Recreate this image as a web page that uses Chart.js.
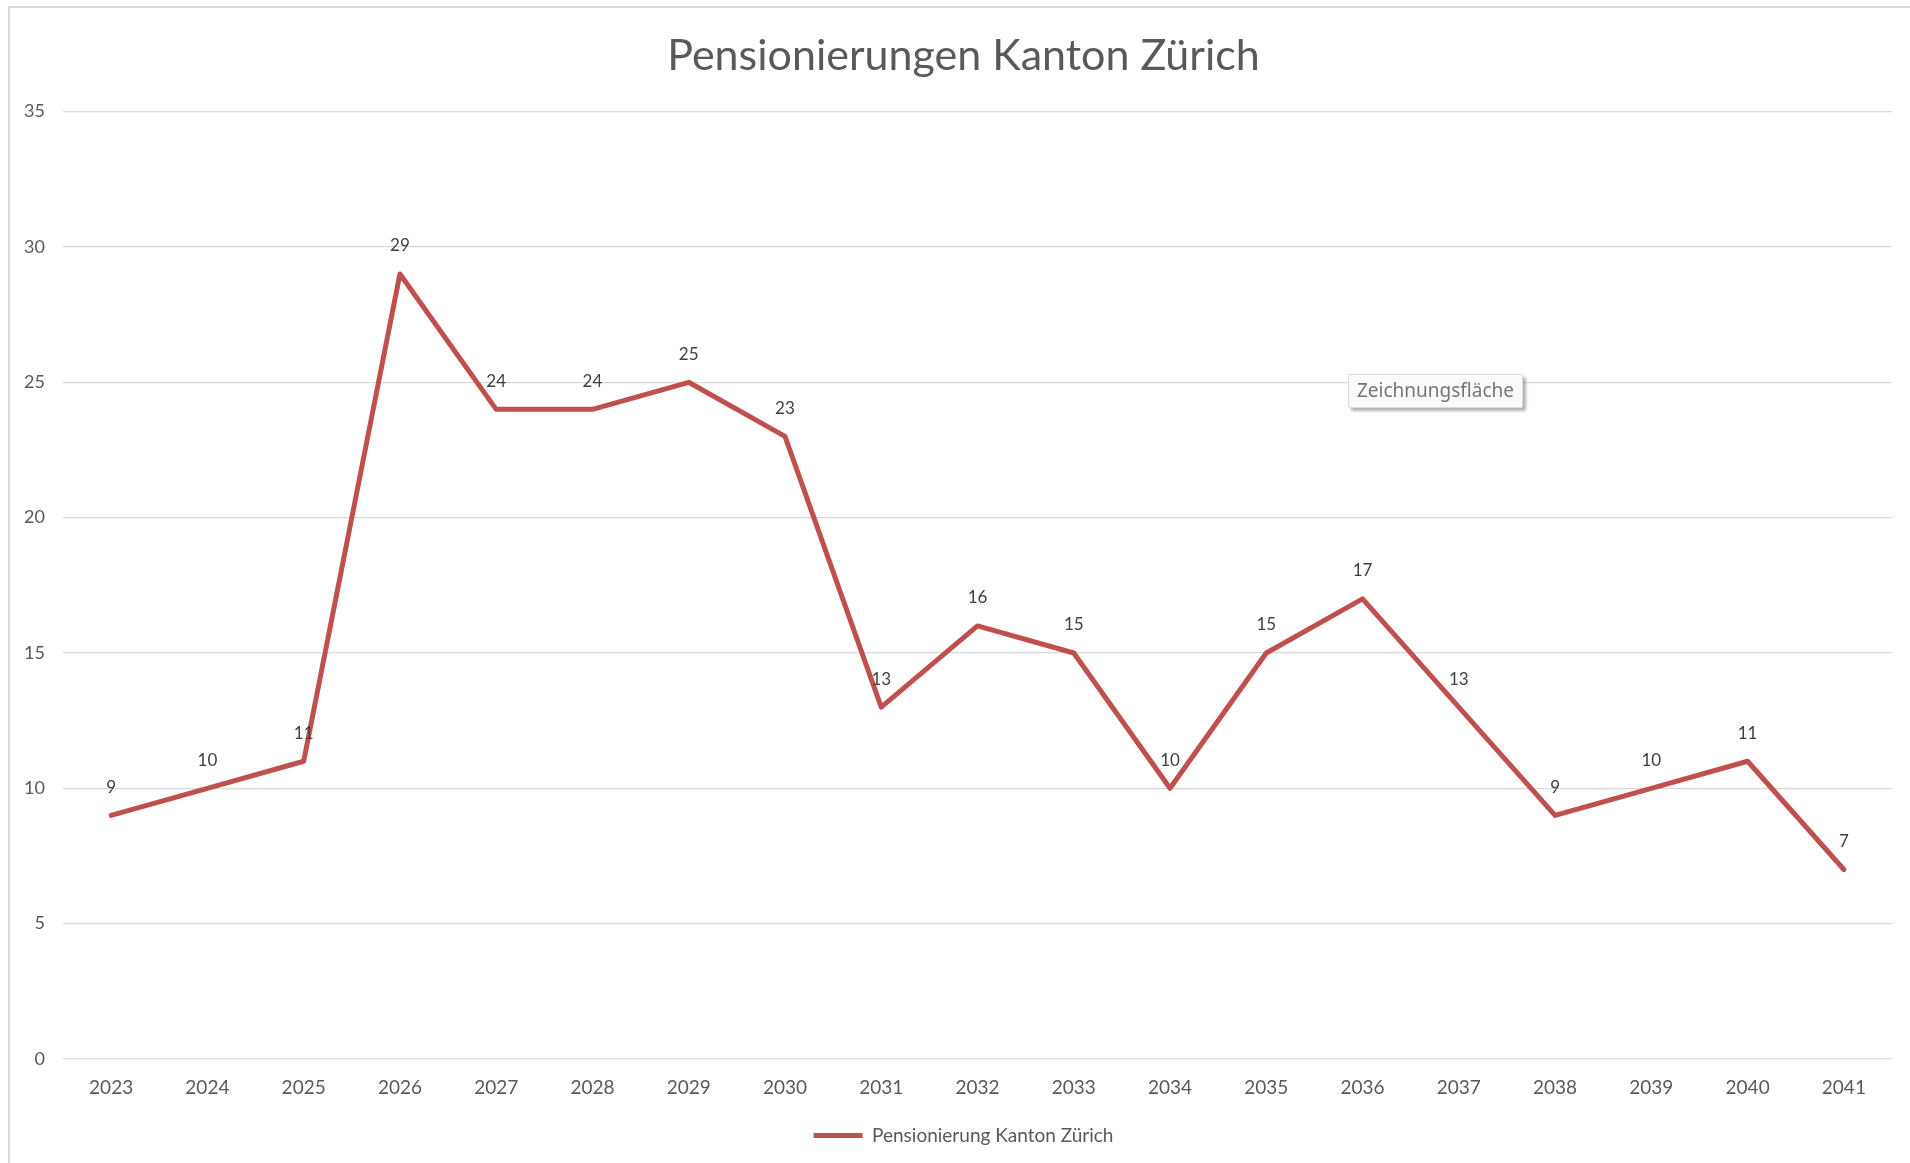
<!DOCTYPE html>
<html>
<head>
<meta charset="utf-8">
<script src="https://cdn.jsdelivr.net/npm/chart.js@4.4.1/dist/chart.umd.min.js"></script>
<style>
  body { margin: 0; background: #fff; }
  #wrap { position: relative; width: 1910px; height: 1163px; }
  #hint {
    position: absolute; left: 1348px; top: 374px;
    padding: 2px 8px 3px 8px; line-height: 27px;
    background: #fbfbfb; border: 1px solid #dcdcdc; border-radius: 2px;
    box-shadow: 3px 3px 3px rgba(0,0,0,0.3);
    font-family: "Noto Sans", sans-serif; font-size: 19px; color: #767676;
  }
</style>
</head>
<body>
<div id="wrap">
  <canvas id="chart" width="1910" height="1163"></canvas>
  <div id="hint">Zeichnungsfläche</div>
</div>
<script>
// years on the x axis
const years = ['2023', '2024', '2025', '2026', '2027', '2028', '2029', '2030', '2031', '2032',
               '2033', '2034', '2035', '2036', '2037', '2038', '2039', '2040', '2041']
// retirements per year
const pensionierungen = [9, 10, 11, 29, 24, 24, 25, 23, 13, 16, 15, 10, 15, 17, 13, 9, 10, 11, 7]
const yTicks = [0, 5, 10, 15, 20, 25, 30, 35]

const fontName = 'Lato, "Open Sans", sans-serif'

// value labels above each point
const valueLabels = {
    id: 'valueLabels',
    afterDatasetsDraw(chart) {
        const ctx = chart.ctx
        const meta = chart.getDatasetMeta(0)
        ctx.save()
        ctx.font = '17px ' + fontName
        ctx.fillStyle = '#404040'
        ctx.textAlign = 'center'
        ctx.textBaseline = 'middle'
        meta.data.forEach((pt, i) => {
            ctx.fillText(String(chart.data.datasets[0].data[i]), pt.x, pt.y - 28)
        })
        ctx.restore()
    }
}

// white background + sheet border lines
const sheetBorder = {
    id: 'sheetBorder',
    beforeDraw(chart) {
        const ctx = chart.ctx
        ctx.save()
        ctx.fillStyle = '#fff'
        ctx.fillRect(0, 0, chart.width, chart.height)
        ctx.strokeStyle = '#dadada'
        ctx.lineWidth = 2
        ctx.beginPath()
        ctx.moveTo(9, 1163)
        ctx.lineTo(9, 7)
        ctx.lineTo(1910, 7)
        ctx.stroke()
        ctx.restore()
    }
}

// title and legend sit a bit right of the canvas centre in the original
const shiftBoxes = {
    id: 'shiftBoxes',
    afterLayout(chart) {
        for (const box of [chart.titleBlock, chart.legend]) {
            if (!box) continue
            box.left += 13
            box.right += 13
        }
    }
}

new Chart(document.getElementById('chart'), {
    type: 'line',
    data: {
        labels: years,
        datasets: [{
            label: 'Pensionierung Kanton Zürich',
            data: pensionierungen,
            borderColor: '#C0504D',
            backgroundColor: '#C0504D',
            borderWidth: 5,
            borderJoinStyle: 'round',
            borderCapStyle: 'round',
            pointRadius: 0,
            tension: 0
        }]
    },
    options: {
        responsive: false,
        animation: false,
        layout: {
            padding: {left: 9, right: 18, top: 0, bottom: 8}
        },
        scales: {
            x: {
                offset: true,
                grid: {display: false, drawTicks: false},
                border: {display: false},
                ticks: {
                    padding: 17,
                    color: '#595959',
                    font: {family: fontName, size: 19},
                    maxRotation: 0
                },
                afterFit: (scale) => { scale.height = 57 }
            },
            y: {
                min: 0,
                max: 35,
                afterBuildTicks: (scale) => { scale.ticks = yTicks.map(v => ({value: v})) },
                grid: {color: '#d9d9d9', lineWidth: 1.3, drawTicks: false},
                border: {display: false},
                ticks: {
                    padding: 18,
                    color: '#595959',
                    font: {family: fontName, size: 18}
                },
                afterFit: (scale) => { scale.width = 54 }
            }
        },
        plugins: {
            title: {
                display: true,
                text: 'Pensionierungen Kanton Zürich',
                color: '#595959',
                font: {family: fontName, size: 43, weight: 'normal'},
                padding: {top: 30, bottom: 30}
            },
            legend: {
                position: 'bottom',
                labels: {
                    usePointStyle: true,
                    pointStyle: 'line',
                    pointStyleWidth: 49,
                    color: '#595959',
                    font: {family: fontName, size: 19},
                    padding: 10
                }
            },
            tooltip: {enabled: false}
        }
    },
    plugins: [sheetBorder, shiftBoxes, valueLabels]
})
</script>
</body>
</html>
